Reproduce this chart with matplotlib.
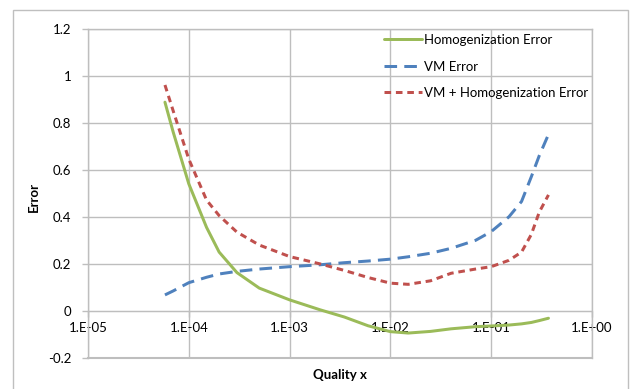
import matplotlib
matplotlib.use("Agg")
import matplotlib.pyplot as plt
from matplotlib.patches import Rectangle

plt.rcParams['font.family'] = ['Lato', 'DejaVu Sans']

x_vals = [5.8e-5, 7e-5, 1e-4, 1.5e-4, 2e-4, 3e-4, 5e-4, 1e-3, 2e-3, 3.5e-3, 6e-3, 1e-2,
          1.5e-2, 2.5e-2, 4e-2, 7e-2, 1e-1, 1.5e-1, 2e-1, 2.5e-1, 3e-1, 3.7e-1]
homog_err = [0.887, 0.76, 0.54, 0.355, 0.25, 0.163, 0.097, 0.047, 0.005, -0.026, -0.063, -0.088,
             -0.094, -0.087, -0.076, -0.067, -0.064, -0.06, -0.055, -0.049, -0.041, -0.031]
vm_err = [0.068, 0.085, 0.12, 0.143, 0.157, 0.168, 0.178, 0.188, 0.196, 0.205, 0.212, 0.22,
          0.23, 0.245, 0.266, 0.30, 0.337, 0.40, 0.465, 0.57, 0.66, 0.75]
vm_homog_err = [0.96, 0.85, 0.645, 0.471, 0.405, 0.335, 0.28, 0.231, 0.20, 0.172, 0.142, 0.118,
                0.113, 0.128, 0.16, 0.178, 0.188, 0.215, 0.25, 0.325, 0.42, 0.493]

series_labels = ["Homogenization Error", "VM Error", "VM + Homogenization Error"]
x_tick_vals = [1e-5, 1e-4, 1e-3, 1e-2, 1e-1, 1e0]
x_tick_labels = ["1.E-05", "1.E-04", "1.E-03", "1.E-02", "1.E-01", "1.E+00"]
y_tick_vals = [-0.2, 0, 0.2, 0.4, 0.6, 0.8, 1.0, 1.2]
y_tick_labels = ["-0.2", "0", "0.2", "0.4", "0.6", "0.8", "1", "1.2"]

W, H = 631, 389
fig = plt.figure(figsize=(W / 100, H / 100), dpi=100)
fig.patches.append(Rectangle((13 / W, -0.1), (628 - 13) / W, (H - 10) / H + 0.1,
                             transform=fig.transFigure, fill=False,
                             edgecolor='#BFBFBF', linewidth=1.0))

ax = fig.add_axes([88 / W, (H - 358) / H, (592 - 88) / W, (358 - 28.5) / H])
ax.set_xscale('log')
ax.set_xlim(1e-5, 1e0)
ax.set_ylim(-0.2, 1.2)

grid_c = '#BEBEBE'
ax.set_xticks(x_tick_vals)
ax.set_xticklabels(x_tick_labels)
ax.xaxis.set_minor_locator(matplotlib.ticker.NullLocator())
ax.set_yticks(y_tick_vals)
ax.set_yticklabels(y_tick_labels)
ax.grid(True, color=grid_c, linewidth=1.0)
ax.set_axisbelow(True)
for s in ['top', 'right', 'left']:
    ax.spines[s].set_color(grid_c)
    ax.spines[s].set_linewidth(1.0)
ax.spines['bottom'].set_position(('data', 0))
ax.spines['bottom'].set_color(grid_c)
ax.axhline(-0.2, color=grid_c, linewidth=1.5, clip_on=False, zorder=0)

fs = 9.5
ax.tick_params(axis='y', length=4, width=1, color=grid_c, pad=8, labelsize=fs, labelcolor='#000000')
ax.tick_params(axis='x', length=4, width=1, color=grid_c, pad=4, labelsize=fs, labelcolor='#000000')

lw = 3.0 * 72 / 100
ax.plot(x_vals, homog_err, color='#9BBB59', linewidth=lw, solid_capstyle='round',
        solid_joinstyle='round', label=series_labels[0], zorder=3)
ax.plot(x_vals, vm_err, color='#4F81BD', linewidth=lw, dashes=(4.2, 2.4),
        label=series_labels[1], zorder=3)
ax.plot(x_vals, vm_homog_err, color='#C0504D', linewidth=lw, dashes=(2.2, 1.6),
        label=series_labels[2], zorder=3)

ax.set_ylabel("Error", fontsize=fs, fontweight='bold')
ax.yaxis.set_label_coords(-48 / (592 - 88), 0.49)
ax.set_xlabel("Quality x", fontsize=fs, fontweight='bold')
ax.xaxis.set_label_coords(0.5, -(369 - 358) / (358 - 28.5))

leg = ax.legend(loc='upper left', bbox_to_anchor=((384 - 88) / (592 - 88), 1 - (34 - 28.5) / (358 - 28.5)),
                frameon=False, fontsize=fs, handlelength=2.85, handletextpad=0.15,
                labelspacing=1.1, borderaxespad=0, borderpad=0)

fig.savefig("out.png", dpi=100)
